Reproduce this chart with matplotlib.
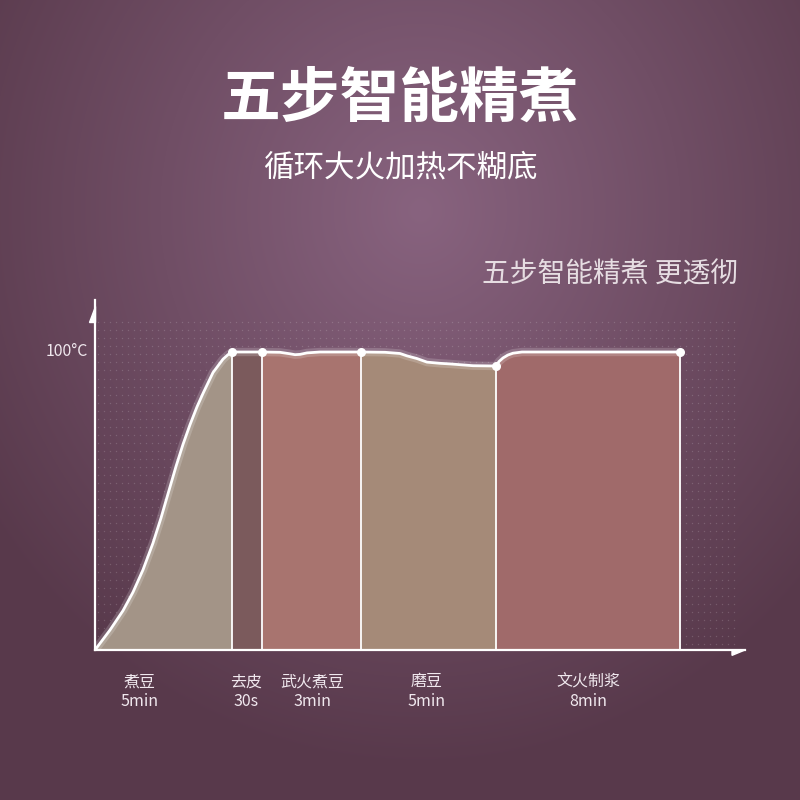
import numpy as np
import matplotlib
matplotlib.use("Agg")
import matplotlib.pyplot as plt

plt.rcParams['font.family'] = ['Noto Sans CJK SC', 'DejaVu Sans']

title = "五步智能精煮"
subtitle = "循环大火加热不糊底"
tagline = "五步智能精煮 更透彻"

# stage boundaries along the time axis (chart units, not proportional to minutes)
stage_edges = [0, 137, 167, 266, 401, 585]
stage_names = ["煮豆", "去皮", "武火煮豆", "磨豆", "文火制浆"]
stage_times = ["5min", "30s", "3min", "5min", "8min"]
stage_label_x = [45, 151, 217, 332, 493]
stage_colors = ["#a39487", "#7b5a5c", "#a8746f", "#a58a78", "#a06a6a"]

# temperature curve
curve_x = [0, 15, 28, 38, 48, 58, 66, 73, 81, 88, 95, 102,
           108, 118, 128, 133, 137,
           150, 167, 185, 195, 200, 205, 212, 225, 266,
           290, 305, 312, 322, 332, 345, 355, 378, 401,
           404, 408, 413, 418, 427, 500, 585]
curve_t = [0, 6.7, 13.2, 19.4, 26.9, 35.9, 44.3, 52.4, 61.6, 69.0, 75.6, 81.6,
           86.1, 93.1, 97.6, 99.1, 100,
           100, 100, 99.9, 99.4, 99.1, 99.2, 99.7, 100, 100,
           99.9, 99.5, 98.7, 97.8, 96.6, 96.2, 96.0, 95.4, 95.3,
           96.8, 98.0, 99.0, 99.6, 100, 100, 100]

marker_x = [137, 167, 266, 401, 585]
marker_t = [100, 100, 100, 95.3, 100]

fig = plt.figure(figsize=(8, 8), dpi=100)

# background radial gradient
bg = fig.add_axes([0, 0, 1, 1])
yy, xx = np.mgrid[0:800, 0:800]
r = np.sqrt(((xx - 420) / 520.0) ** 2 + ((yy - 210) / 560.0) ** 2)
r = np.clip(r, 0, 1)
c_in = np.array([0x88, 0x63, 0x7f]) / 255.0
c_out = np.array([0x58, 0x39, 0x4b]) / 255.0
img = c_in[None, None, :] * (1 - r[..., None]) + c_out[None, None, :] * r[..., None]
bg.imshow(img, extent=[0, 800, 800, 0], aspect='auto')
bg.set_xlim(0, 800)
bg.set_ylim(800, 0)
bg.axis('off')

# chart area
ax = fig.add_axes([95 / 800, 150 / 800, 650 / 800, 350 / 800])
ax.set_xlim(0, 650)
ax.set_ylim(0, 350 / 2.98)
ax.patch.set_alpha(0)
for s in ['top', 'right']:
    ax.spines[s].set_visible(False)
for s in ['left', 'bottom']:
    ax.spines[s].set_color('white')
    ax.spines[s].set_linewidth(1.6)
ax.set_xticks([])
ax.set_yticks([])

# faint dot texture
gx, gy = np.meshgrid(np.arange(3, 645, 6), np.arange(2, 112, 2.7))
ax.scatter(gx.ravel(), gy.ravel(), s=1.0, color='white', alpha=0.16, lw=0, zorder=1)

# axis arrow heads
ax.fill([-6, 0, 0], [110, 110, 115.5], color='white', clip_on=False, zorder=5)
ax.fill([637, 650, 637], [0, 0, -1.8], color='white', clip_on=False, zorder=5)

cx = np.array(curve_x, dtype=float)
ct = np.array(curve_t, dtype=float)
for i in range(5):
    lo, hi = stage_edges[i], stage_edges[i + 1]
    m = (cx >= lo) & (cx <= hi)
    ax.fill_between(cx[m], 0, ct[m], color=stage_colors[i], lw=0, zorder=2)

# segment separators
for x, t in zip(marker_x, marker_t):
    ax.plot([x, x], [0, t], color='white', lw=1.3, zorder=3)

ax.plot(cx, ct, color='white', lw=6, alpha=0.18, solid_capstyle='round',
        solid_joinstyle='round', zorder=3)
ax.plot(cx, ct, color='white', lw=2, solid_joinstyle='round', zorder=4)
ax.scatter(marker_x, marker_t, s=30, color='white', zorder=5)

ax.text(-7, 100, "100°C", ha='right', va='center', fontsize=11.5, color='#f0e8ee')

for x, n, t in zip(stage_label_x, stage_names, stage_times):
    ax.text(x, -10.7, n, ha='center', va='center', fontsize=11.5, color='#f0e8ee')
    ax.text(x, -17.2, t, ha='center', va='center', fontsize=11.5, color='#f0e8ee')

fig.text(0.5, 1 - 100 / 800, title, ha='center', va='center', fontsize=43,
         fontweight='bold', color='white')
fig.text(0.5, 1 - 168 / 800, subtitle, ha='center', va='center', fontsize=22,
         color='white')
fig.text(738 / 800, 1 - 275 / 800, tagline, ha='right', va='center', fontsize=20,
         color='#e6dde2', fontweight='light')

fig.savefig("out.png", dpi=100)
